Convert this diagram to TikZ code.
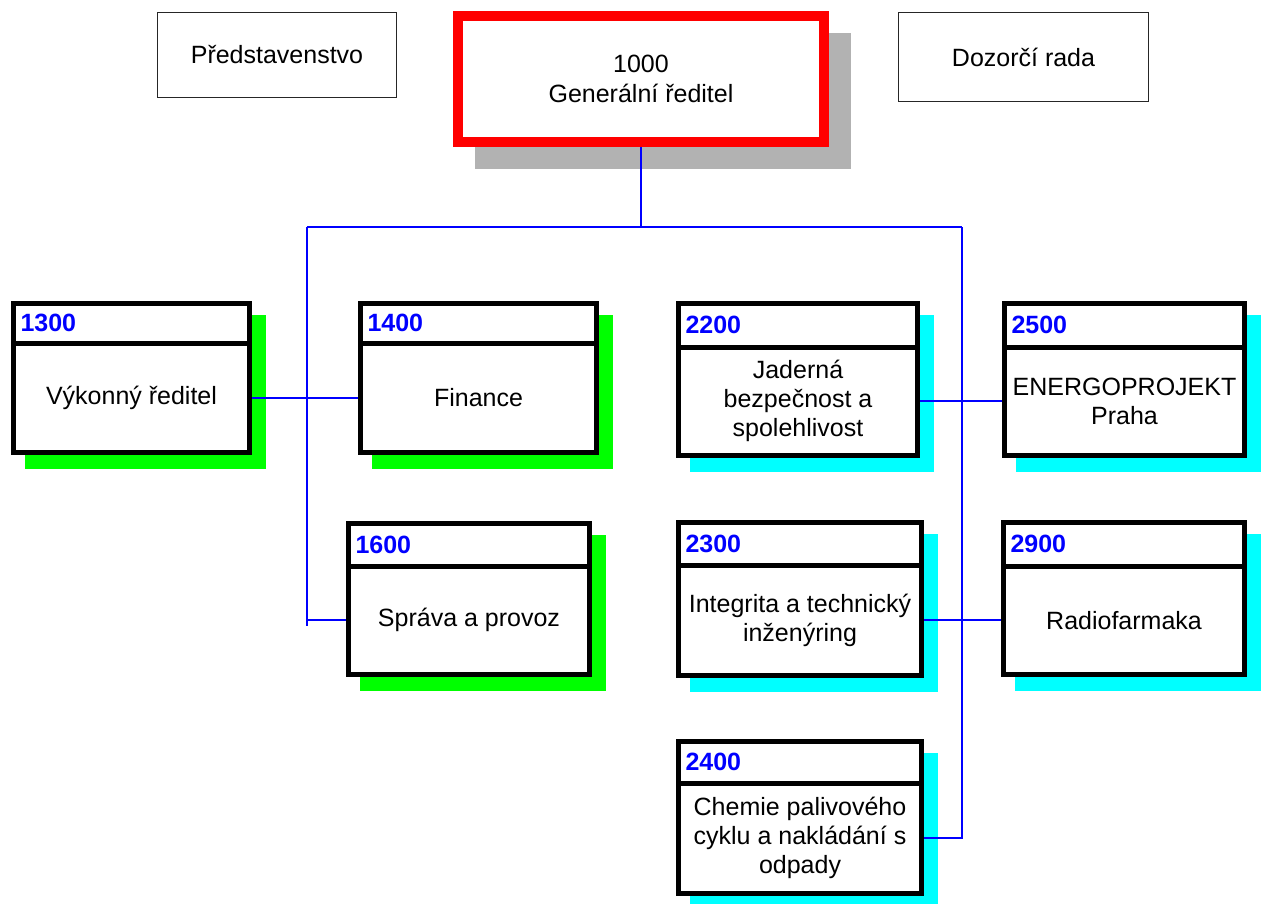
\documentclass[tikz,border=0pt]{standalone}
\usepackage{fontspec}
\setmainfont{Liberation Sans}
\pgfdeclarelayer{bglayer}
\pgfdeclarelayer{shadowlayer}
\pgfdeclarelayer{connlayer}
\pgfsetlayers{bglayer,shadowlayer,connlayer,main}
\definecolor{shgreen}{HTML}{00FF00}
\definecolor{shcyan}{HTML}{00FFFF}
\definecolor{shgray}{HTML}{B2B2B2}
\definecolor{redframe}{HTML}{FF0000}
\definecolor{bluenum}{HTML}{0000FF}
\tikzset{
  hdr/.style={draw=black, fill=white, line width=5pt, rectangle, inner xsep=7pt, inner ysep=0pt,
    outer sep=0pt, align=left, anchor=north west, text=bluenum,
    font={\fontsize{25}{29}\selectfont\bfseries}},
  bodybox/.style={draw=black, fill=white, line width=5pt, rectangle, inner sep=0pt, outer sep=0pt,
    align=center, anchor=north west, font={\fontsize{25}{29}\selectfont}},
  topbox/.style={draw=black!85, fill=white, line width=1pt, rectangle, inner sep=0pt, outer sep=0pt,
    align=center, anchor=north west, font={\fontsize{25}{29}\selectfont}},
  genbox/.style={draw=redframe, fill=white, line width=10pt, rectangle, inner sep=0pt, outer sep=0pt,
    align=center, anchor=north west, font={\fontsize{25}{30}\selectfont}},
  conn/.style={draw=bluenum, line width=1.6pt},
}
\begin{document}
\begin{tikzpicture}[x=1pt, y=-1pt]
\begin{pgfonlayer}{bglayer}
  \fill[white] (0,0) rectangle (1263,904);
\end{pgfonlayer}
\useasboundingbox (0,0) rectangle (1263,904);

% top boxes
\node[topbox, minimum width=239, minimum height=85] (pred) at (157.5,12.5) {Představenstvo};
\node[topbox, minimum width=250, minimum height=89] (dozor) at (898.5,12.5) {Dozorčí rada};
\node[genbox, minimum width=366, minimum height=126] (gen) at (458,16) {1000\\Generální ředitel};

% units
\node[hdr, minimum width=236, minimum height=39.5, text width=222] (h1300) at (13.5,303.5) {1300};
\node[bodybox, minimum width=236, minimum height=109.5] (b1300) at (13.5,343) {Výkonný ředitel};

\node[hdr, minimum width=236, minimum height=39.5, text width=222] (h1400) at (360.5,303.5) {1400};
\node[bodybox, minimum width=236, minimum height=109.5] (b1400) at (360.5,343) {Finance};

\node[hdr, minimum width=241, minimum height=42.5, text width=227] (h1600) at (348.5,523.5) {1600};
\node[bodybox, minimum width=241, minimum height=108.5] (b1600) at (348.5,566) {Správa a provoz};

\node[hdr, minimum width=239, minimum height=43.5, text width=225] (h2200) at (678.5,303.5) {2200};
\node[bodybox, minimum width=239, minimum height=108.5] (b2200) at (678.5,347) {Jaderná\\bezpečnost a\\spolehlivost};

\node[hdr, minimum width=240, minimum height=43.5, text width=226] (h2500) at (1004.5,303.5) {2500};
\node[bodybox, minimum width=240, minimum height=108.5] (b2500) at (1004.5,347) {ENERGOPROJEKT\\Praha};

\node[hdr, minimum width=243, minimum height=42.5, text width=229] (h2300) at (678.5,522.5) {2300};
\node[bodybox, minimum width=243, minimum height=110.5] (b2300) at (678.5,565) {Integrita a technický\\inženýring};

\node[hdr, minimum width=241, minimum height=43.5, text width=227] (h2900) at (1003.5,522.5) {2900};
\node[bodybox, minimum width=241, minimum height=108.5] (b2900) at (1003.5,566) {Radiofarmaka};

\node[hdr, minimum width=243, minimum height=41.5, text width=229] (h2400) at (678.5,741.5) {2400};
\node[bodybox, minimum width=243, minimum height=110.5] (b2400) at (678.5,783) {Chemie palivového\\cyklu a nakládání s\\odpady};

% shadows
\begin{pgfonlayer}{shadowlayer}
  \fill[shgray] ([shift={(17,17)}]gen.north west) rectangle ([shift={(27,27)}]gen.south east);
  \foreach \u in {1300,1400,1600}
    \fill[shgreen] ([shift={(11.5,11.5)}]h\u.north west) rectangle ([shift={(16.5,16.5)}]b\u.south east);
  \foreach \u in {2200,2500,2300,2900,2400}
    \fill[shcyan] ([shift={(11.5,11.5)}]h\u.north west) rectangle ([shift={(16.5,16.5)}]b\u.south east);
\end{pgfonlayer}

% connectors
\coordinate (genbus) at (641,227);
\coordinate (busL) at (307,227);
\coordinate (busR) at (962,227);
\coordinate (busLend) at (307,626);
\begin{pgfonlayer}{connlayer}
  \draw[conn] (gen.south) -- (genbus);
  \draw[conn] (busL) -- (busR);
  \draw[conn] (busL) -- (busLend);
  \draw[conn] (b1600.west) -- (b1600.west -| busL);
  \draw[conn] (b1300.east) -- (b1400.west);
  \draw[conn] (busR) |- (b2400.east);
  \draw[conn] (b2200.east) -- (b2500.west);
  \draw[conn] (b2300.east) -- (b2900.west);
\end{pgfonlayer}
\end{tikzpicture}
\end{document}
